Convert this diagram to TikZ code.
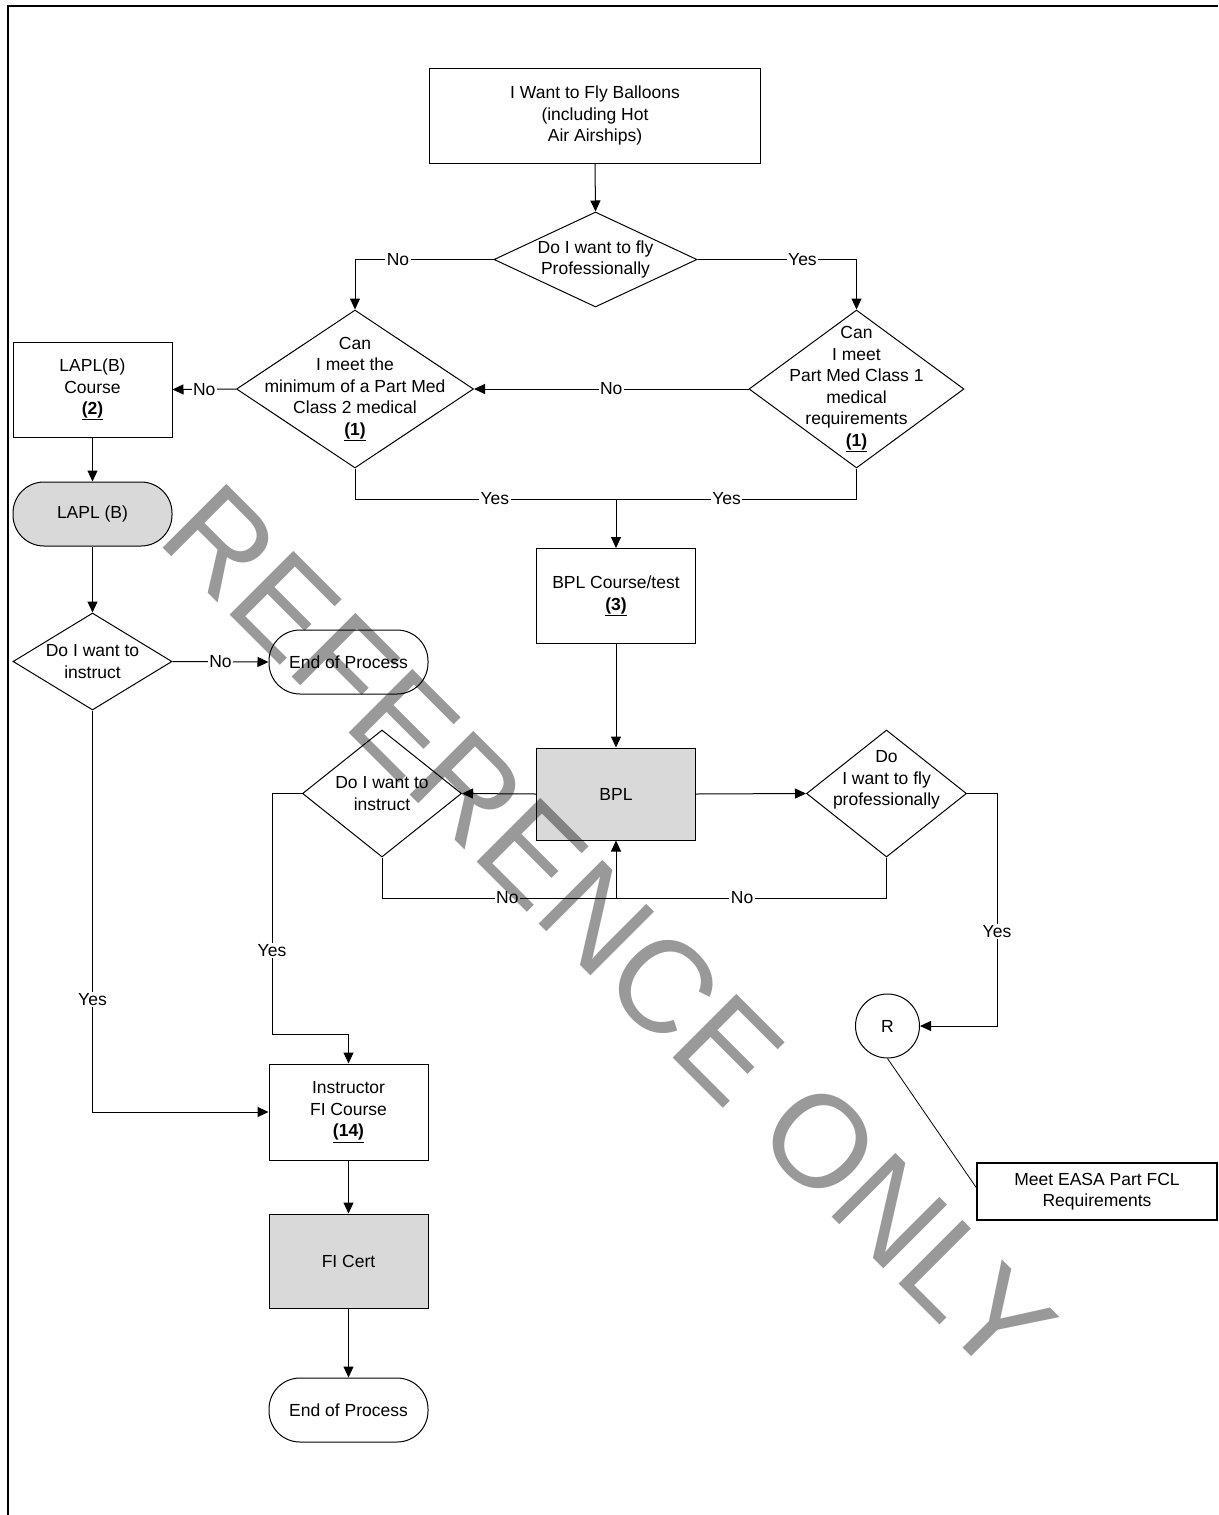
\documentclass[tikz,border=0pt]{standalone}
\usepackage{fontspec}
\setmainfont{Liberation Sans}
\usetikzlibrary{shapes.geometric,arrows.meta}
\definecolor{boxgrey}{RGB}{217,217,217}
\definecolor{wmgrey}{RGB}{153,153,153}
\newcommand\fsz{\fontsize{17.5}{21.5}\selectfont}
\newcommand\numref[1]{\underline{\textbf{#1}}}
\begin{document}
\begin{tikzpicture}[x=1pt,y=-1pt,
  every node/.style={font=\fsz},
  box/.style 2 args={draw, line width=1pt, rectangle, minimum width=#1pt, minimum height=#2pt, inner sep=0pt, align=center},
  term/.style={draw, line width=1pt, rectangle, rounded corners=31pt, minimum width=159pt, minimum height=64pt, inner sep=0pt, align=center},
  dia/.style 2 args={draw, line width=1pt, diamond, minimum width=#1pt, minimum height=#2pt, inner sep=0pt},
  txt/.style={align=center, inner sep=0pt},
  arr/.style={line width=1pt, -{Triangle[length=11pt,width=10pt]}},
  ln/.style={line width=1pt},
  lbl/.style={fill=white, inner sep=1.5pt}
]
\useasboundingbox (0,0) rectangle (1218,1515);
\fill[white] (0,0) rectangle (1218,1515);
\draw[line width=2.2pt] (1218,6) -- (8,6) -- (8,1515);

% nodes
\node[box={331}{95}] (s) at (595,115.5) {I Want to Fly Balloons\\(including Hot\\Air Airships)};
\node[dia={203}{95}] (d1) at (595.5,259.5) {};
\node[txt] (d1t) at (d1) {Do I want to fly\\Professionally};
\node[dia={237}{158}] (d2) at (355,389) {};
\node[txt] (d2t) at (d2) {Can\\I meet the\\minimum of a Part Med\\Class 2 medical\\\numref{(1)}};
\node[dia={215}{158}] (d3) at (856.5,389) {};
\node[txt] (d3t) at (d3) {Can\\I meet\\Part Med Class 1\\medical\\requirements\\\numref{(1)}};
\node[box={159}{95}] (lc) at (92.5,389.5) {LAPL(B)\\Course\\\numref{(2)}};
\node[term, fill=boxgrey] (lapl) at (92.5,514) {LAPL (B)};
\node[dia={159}{97}] (d4) at (92.5,661.5) {};
\node[txt] (d4t) at (d4) {Do I want to\\instruct};
\node[term] (e1) at (348.5,662) {End of Process};
\node[box={159}{95}] (bc) at (616,596) {BPL Course/test\\\numref{(3)}};
\node[box={159}{92}, fill=boxgrey] (bpl) at (616,794) {BPL};
\node[dia={159}{127}] (d5) at (382,793.5) {};
\node[txt] (d5t) at (d5) {Do I want to\\instruct};
\node[dia={160}{127}] (d6) at (886.5,793.5) {};
\node[txt] (d6t) at (886.5,780) {Do\\I want to fly\\professionally};
\node[circle, draw, line width=1pt, minimum size=64pt, inner sep=0pt] (r) at (887.5,1026) {R};
\node[box={240}{57}, line width=1.6pt] (easa) at (1097,1191.5) {Meet EASA Part FCL\\Requirements};
\node[box={159}{96}] (fic) at (348.5,1112) {Instructor\\FI Course\\\numref{(14)}};
\node[box={159}{94}, fill=boxgrey] (fi) at (348.5,1261) {FI Cert};
\node[term] (e2) at (348.5,1410) {End of Process};

% junctions
\coordinate (j1) at (616,499);
\coordinate (j2) at (616,898);
\coordinate (c1) at (997,1026);
\coordinate (c2) at (272,1034);

% connectors
\draw[arr] (s.south) -- (d1.north);
\draw[arr] (d1.west) -| node[lbl,pos=0.345]{No} (d2.north);
\draw[arr] (d1.east) -| node[lbl,pos=0.33]{Yes} (d3.north);
\draw[arr] (d3.west) -- node[lbl]{No} (d2.east);
\draw[arr] (d2.west) -- node[lbl]{No} (lc.east);
\draw[ln] (d2.south) |- node[lbl,pos=0.768]{Yes} (j1);
\draw[ln] (d3.south) |- node[lbl,pos=0.77]{Yes} (j1);
\draw[arr] (j1) -- (bc.north);
\draw[arr] (lc.south) -- (lapl.north);
\draw[arr] (lapl.south) -- (d4.north);
\draw[arr] (d4.east) -- node[lbl]{No} (e1.west);
\draw[arr] (bc.south) -- (bpl.north);
\draw[arr] (bpl.west) -- (d5.east);
\draw[arr] (bpl.east) -- (d6.west);
\draw[ln] (d5.south) |- node[lbl,pos=0.768]{No} (j2);
\draw[ln] (d6.south) |- node[lbl,pos=0.767]{No} (j2);
\draw[arr] (j2) -- (bpl.south);
\draw[arr] (d6.east) -| node[lbl,pos=0.797]{Yes} (c1) -- (r.east);
\draw[arr] (d5.west) -| node[lbl,pos=0.827]{Yes} (c2) -| (fic.north);
\draw[arr] (d4.south) |- node[lbl,pos=0.36]{Yes} (fic.west);
\draw[arr] (fic.south) -- (fi.north);
\draw[arr] (fi.south) -- (e2.north);
\draw[line width=0.8pt] (r.south) -- ([yshift=4pt]easa.west);

% watermark
\begin{scope}[blend mode=multiply]
\node[text=wmgrey, rotate=-45, font=\fontsize{131}{131}\selectfont, inner sep=0pt] (wm) at (609,930) {REFERENCE ONLY};
\end{scope}
\end{tikzpicture}
\end{document}
